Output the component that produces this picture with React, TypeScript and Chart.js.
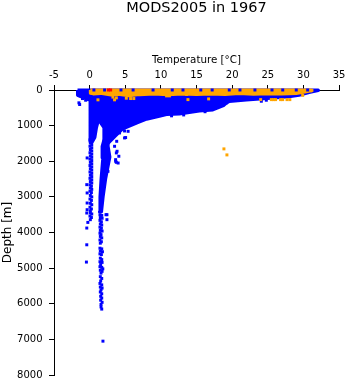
import React, { useEffect, useRef } from 'react';
import { Chart, registerables } from 'chart.js';

Chart.register(...registerables);

const titleText = 'MODS2005 in 1967';
const xAxisTitle = 'Temperature [°C]';
const yAxisTitle = 'Depth [m]';
const tempTicks = [-5, 0, 5, 10, 15, 20, 25, 30, 35];
const depthTicks = [0, 1000, 2000, 3000, 4000, 5000, 6000, 7000, 8000];

// [temperature °C, depth m] — outline of the dense blue cloud (upper body)
const blueCloudOutline: number[][] = [
  [-1.7, 0], [32.1, 0], [32.1, 15], [31.6, 35], [30.8, 70], [29.4, 150], [28.0, 190],
  [25.0, 240], [23.9, 255], [22.0, 280], [19.6, 320], [19.2, 370], [18.8, 440],
  [17.3, 560], [15.4, 590], [12.6, 675], [10.8, 690], [9.8, 740], [8.0, 820],
  [6.6, 930], [4.6, 1100], [3.6, 1300], [2.6, 1500], [2.0, 1400], [2.0, 1055],
  [1.25, 840], [0.97, 1055], [0.74, 1335], [0.4, 1450], [0.06, 1450],
  [0.06, 800], [0.06, 300], [-0.6, 230], [-1.2, 190], [-1.7, 150], [-1.7, 0],
];

// outline of the cold right-hand (≈2 °C) deep tail
const blueRightTail: number[][] = [
  [2.0, 1400], [2.6, 1500], [2.6, 1580], [2.85, 1880], [2.25, 2500], [1.9, 3000],
  [1.67, 3420], [1.37, 3420], [1.45, 3000], [1.6, 2500], [1.85, 1900], [1.75, 1580],
  [2.0, 1400],
];

// observations forming the left-hand (≈0 °C) deep tail
const blueLeftTail: number[][] = [
  [0.05, 1400], [0.3, 1440], [0.1, 1490], [0.3, 1530], [0.05, 1580], [0.3, 1620],
  [0.1, 1670], [0.3, 1710], [0.05, 1760], [0.3, 1800], [0.1, 1850], [0.3, 1890],
  [0.05, 1940], [0.3, 1980], [0.1, 2030], [0.3, 2070], [0.05, 2120], [0.3, 2160],
  [0.1, 2210], [0.3, 2250], [0.05, 2300], [0.3, 2340], [0.1, 2390], [0.3, 2430],
  [0.05, 2480], [0.3, 2520], [0.1, 2570], [0.3, 2610], [0.05, 2660], [0.25, 2700],
  [0.1, 2750], [0.3, 2790], [0.05, 2840], [0.25, 2880], [0.1, 2960], [0.3, 3000],
  [0.05, 3060], [0.25, 3100], [0.1, 3180], [0.3, 3220], [0.05, 3290], [0.25, 3340],
  [0.1, 3390],
];

// scattered blue observations
const bluePoints: number[][] = [
  [-1.4, 408], [-0.56, 287], [-1.5, 360], [-1.0, 240],
  [24.8, 287], [24.1, 315], [19.2, 360], [16.2, 610], [13.2, 700], [11.5, 725],
  [4.9, 1150], [5.05, 1335], [4.9, 1345], [4.2, 1205], [5.4, 1160], [3.8, 1440],
  [3.5, 1580], [3.85, 1720], [3.75, 1766], [3.65, 1955], [3.65, 2000], [3.75, 2030],
  [4.1, 1860], [4.0, 2050], [2.57, 2283], [2.43, 3500], [2.3, 3500], [2.43, 3640],
  [-0.35, 1907], [-0.4, 2657], [-0.35, 2890], [-0.35, 3172], [-0.35, 3360], [-0.4, 3453],
  [0.1, 3450], [0.3, 3480], [0.05, 3540], [0.25, 3580], [0.1, 3640], [-0.25, 3717],
  [-0.4, 3875], [-0.4, 4345], [-0.45, 4830],
  [1.45, 3500], [1.7, 3520], [1.5, 3580], [1.75, 3600], [1.45, 3660], [1.65, 3700],
  [1.5, 3760], [1.7, 3790], [1.45, 3850], [1.65, 3880], [1.5, 3940], [1.75, 3960],
  [1.45, 4020], [1.6, 4060], [1.5, 4110], [1.7, 4150], [1.45, 4210], [1.65, 4260],
  [1.5, 4300], [1.45, 4440], [1.7, 4460], [1.5, 4520], [1.8, 4540], [1.45, 4600],
  [1.65, 4620], [1.5, 4720], [1.7, 4760], [1.45, 4820], [1.75, 4840], [1.55, 4900],
  [1.45, 4960], [1.7, 4980], [1.85, 5020], [1.5, 5060], [1.75, 5090], [1.6, 5140],
  [1.5, 5240], [1.7, 5290], [1.55, 5360], [1.45, 5430], [1.7, 5470], [1.5, 5530],
  [1.75, 5560], [1.6, 5610], [1.5, 5670], [1.7, 5720], [1.55, 5790], [1.7, 5840],
  [1.55, 5900], [1.75, 5960], [1.6, 6020], [1.6, 6090], [1.7, 6150], [1.87, 7050],
];

// blue surface observations showing through the orange band
const blueSurfacePoints: number[][] = [
  [0.6, 0], [2.1, 0], [4.4, 0], [6.1, 0], [8.9, 0], [11.6, 0], [13.1, 0], [15.6, 0],
  [17.2, 0], [19.6, 0], [21.1, 0], [23.2, 0], [25.6, 0], [27.1, 0], [29.0, 0], [30.6, 0],
];

// scattered orange observations
const orangePoints: number[][] = [
  [1.17, 276], [3.27, 200], [3.5, 276], [3.75, 220], [5.15, 230], [5.75, 240], [6.2, 240],
  [10.5, 127], [10.8, 165], [11.2, 165], [13.6, 127], [13.8, 270], [16.7, 250],
  [24.0, 270], [25.5, 270], [25.8, 270], [26.1, 270], [26.8, 270], [27.1, 270],
  [27.7, 270], [28.1, 270], [29.9, 150], [31.2, 10], [18.85, 1653], [19.27, 1822],
];

// outline of the dense orange surface band
const orangeBandOutline: number[][] = [
  [0.1, 0], [31.1, 0], [31.1, 25], [30.2, 60], [29.0, 100], [27.0, 115], [25.0, 105],
  [23.0, 120], [21.0, 100], [19.0, 125], [17.0, 110], [15.0, 125], [13.0, 110], [11.0, 135],
  [9.0, 110], [7.0, 130], [5.5, 160], [4.0, 120], [3.0, 140], [1.5, 95], [0.5, 110],
  [0.1, 90], [0.1, 0],
];

const redPoints: number[][] = [[2.65, 0], [2.95, 0]];

const BLUE = '#0000ff';
const ORANGE = '#ffa500';
const RED = '#ff0000';
const FONT = 'DejaVu Sans';

const toXY = (arr: number[][]) => arr.map(([x, y]) => ({ x, y }));

const pointSet = (label: string, arr: number[][], color: string) => ({
  type: 'scatter' as const,
  label,
  data: toXY(arr),
  backgroundColor: color,
  borderWidth: 0,
  pointStyle: 'rect' as const,
  pointRadius: 2.1,
  clip: false as const,
});

const shapeSet = (label: string, arr: number[][], color: string) => ({
  type: 'line' as const,
  label,
  data: toXY(arr),
  showLine: true,
  fill: 'shape',
  backgroundColor: color,
  borderColor: color,
  borderWidth: 3,
  borderJoinStyle: 'round' as const,
  pointRadius: 0,
  tension: 0,
  clip: false as const,
});

export default function App() {
  const ref = useRef<HTMLCanvasElement | null>(null);
  useEffect(() => {
    if (!ref.current) return;
    const chart = new Chart(ref.current, {
      type: 'scatter',
      data: {
        datasets: [
          pointSet('red', redPoints, RED),
          pointSet('blueSurface', blueSurfacePoints, BLUE),
          pointSet('orange', orangePoints, ORANGE),
          shapeSet('orangeBand', orangeBandOutline, ORANGE),
          pointSet('blue', bluePoints, BLUE),
          pointSet('blueLeftTail', blueLeftTail, BLUE),
          shapeSet('blueRightTail', blueRightTail, BLUE),
          shapeSet('blueCloud', blueCloudOutline, BLUE),
        ] as any,
      },
      options: {
        animation: false,
        responsive: false,
        devicePixelRatio: 1,
        events: [],
        layout: { padding: { left: 0, right: 9, top: 0, bottom: 9 } },
        plugins: {
          legend: { display: false },
          tooltip: { enabled: false },
          title: {
            display: true,
            text: titleText,
            fullSize: false,
            color: '#000',
            font: { family: FONT, size: 14.5, weight: 'normal', lineHeight: 1 },
            padding: { top: 0.5, bottom: 0 },
          },
        },
        scales: {
          x: {
            type: 'linear',
            position: 'top',
            min: -5,
            max: 35,
            afterBuildTicks: (s: any) => {
              s.ticks = tempTicks.map((v) => ({ value: v }));
            },
            afterFit: (s: any) => {
              s.height = 75;
              s.paddingLeft = 0;
              s.paddingRight = 0;
            },
            ticks: {
              color: '#000',
              padding: 3.5,
              maxRotation: 0,
              autoSkip: false,
              font: { family: FONT, size: 10, lineHeight: 1.2 },
              callback: (v: any) => String(v),
            },
            grid: {
              drawOnChartArea: false,
              drawTicks: true,
              tickLength: 5,
              color: '#000',
              lineWidth: 1,
            },
            border: { display: true, color: '#000', width: 1 },
            title: {
              display: true,
              text: xAxisTitle,
              color: '#000',
              font: { family: FONT, size: 10.3, lineHeight: 1 },
              padding: { top: 39.7, bottom: 0 },
            },
          },
          y: {
            type: 'linear',
            position: 'left',
            reverse: true,
            min: 0,
            max: 8000,
            afterBuildTicks: (s: any) => {
              s.ticks = depthTicks.map((v) => ({ value: v }));
            },
            afterFit: (s: any) => {
              s.width = 54;
              s.paddingTop = 0;
              s.paddingBottom = 0;
            },
            ticks: {
              color: '#000',
              padding: 6.5,
              autoSkip: false,
              font: { family: FONT, size: 10, lineHeight: 1.2 },
              callback: (v: any) => String(v),
            },
            grid: {
              drawOnChartArea: false,
              drawTicks: true,
              tickLength: 5,
              color: '#000',
              lineWidth: 1,
            },
            border: { display: true, color: '#000', width: 1 },
            title: {
              display: true,
              text: yAxisTitle,
              color: '#000',
              font: { family: FONT, size: 12, lineHeight: 1 },
              padding: { top: 2, bottom: 0 },
            },
          },
        },
      } as any,
    });
    return () => chart.destroy();
  }, []);
  return (
    <div style={{ position: 'absolute', left: 0, top: 0, width: 348, height: 384, background: '#fff' }}>
      <canvas ref={ref} width={348} height={384} style={{ display: 'block', width: 348, height: 384 }} />
    </div>
  );
}
